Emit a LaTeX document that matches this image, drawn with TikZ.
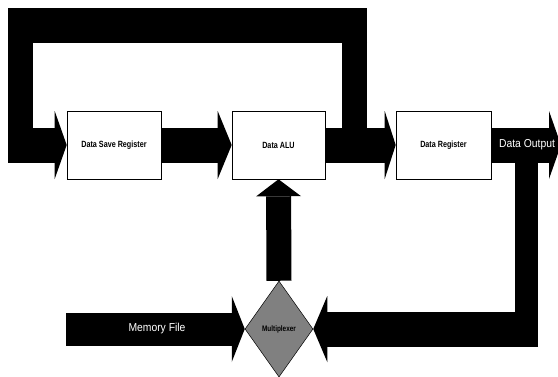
\documentclass[tikz,border=0pt]{standalone}
\usepackage{fontspec}
\setmainfont{Liberation Sans}
\newfontfamily\narrowsans[FakeStretch=0.8]{Liberation Sans}
\newfontfamily\labelsans[FakeStretch=0.9]{Liberation Sans}
\usetikzlibrary{arrows.meta,shapes.geometric}
\pgfdeclarelayer{buses}
\pgfsetlayers{buses,main}

\begin{document}
\begin{tikzpicture}[x=1pt,y=-1pt,
  unit/.style={draw=black, line width=0.6pt, fill=white,
    minimum width=94pt, minimum height=68pt, inner sep=0pt,
    font=\narrowsans\bfseries\fontsize{9}{10}\selectfont},
  bus/.style={draw=black, line width=#1, line cap=butt, line join=miter},
  head/.style 2 args={-{Triangle[length=#1,width=#2,line width=0pt]}},
  buslabel/.style={text=white, font=\labelsans\fontsize{11.5}{12}\selectfont, inner sep=0pt},
  selector/.style={diamond, draw=black, line width=0.5pt, fill=black!50,
    minimum width=68pt, minimum height=96pt, inner sep=0pt,
    font=\narrowsans\bfseries\fontsize{8}{9}\selectfont, text=black}
]
\useasboundingbox (0,0) rectangle (558,376);

% functional units
\node[unit] (dsr) at (114,145) {Data Save Register};
\node[unit, minimum width=93pt] (alu) at (278.5,145) {Data ALU};
\node[unit, minimum width=95pt] (dr) at (443.5,145) {Data Register};
\node[selector] (mux) at (279,329) {Multiplexer};

% loop and bus end points
\coordinate (riserfoot) at (354.5,145);
\coordinate (riser) at (354.5,8);
\coordinate (topright) at (367,25.5);
\coordinate (topleft) at (8,25.5);
\coordinate (drophead) at (20.5,8);
\coordinate (dropfoot) at (20.5,162);
\coordinate (loopin) at (8,145);
\coordinate (outtip) at (561,145);
\coordinate (outdrop) at (526.5,150);
\coordinate (outfoot) at (526.5,347);
\coordinate (ret) at (538,329);
\coordinate (memsrc) at (66,329);

\begin{pgfonlayer}{buses}
  \fill[white] (0,0) rectangle (558,376);
  \clip (0,0) rectangle (558,376);
  % feedback loop from the ALU output back to the save register
  \draw[bus=25pt] (riserfoot) -- (riser);
  \draw[bus=35pt] (topright) -- (topleft);
  \draw[bus=25pt] (drophead) -- (dropfoot);
  \draw[bus=35pt, head={12pt}{68pt}] (loopin) -- (dsr.west);
  % main data path
  \draw[bus=35pt, head={14pt}{68pt}] (dsr.east) -- (alu.west);
  \draw[bus=35pt, head={11pt}{68pt}] (alu.east) -- (dr.west);
  \draw[bus=35pt, head={12pt}{68pt}] (dr.east) -- (outtip);
  % output fed back to the selector
  \draw[bus=23pt] (outdrop) -- (outfoot);
  \draw[bus=35pt, head={14pt}{66pt}] (ret) -- (mux.east);
  % memory file into the selector, selector into the ALU
  \draw[bus=33pt, head={13pt}{66pt}] (memsrc) -- (mux.west);
  \draw[bus=25pt, head={17pt}{45pt}] (mux.north) -- (alu.south);
\end{pgfonlayer}

% bus labels
\node[buslabel] (outlabel) at (527,145) {Data Output};
\node[buslabel] (memlabel) at (157,329) {Memory File};
\end{tikzpicture}
\end{document}
